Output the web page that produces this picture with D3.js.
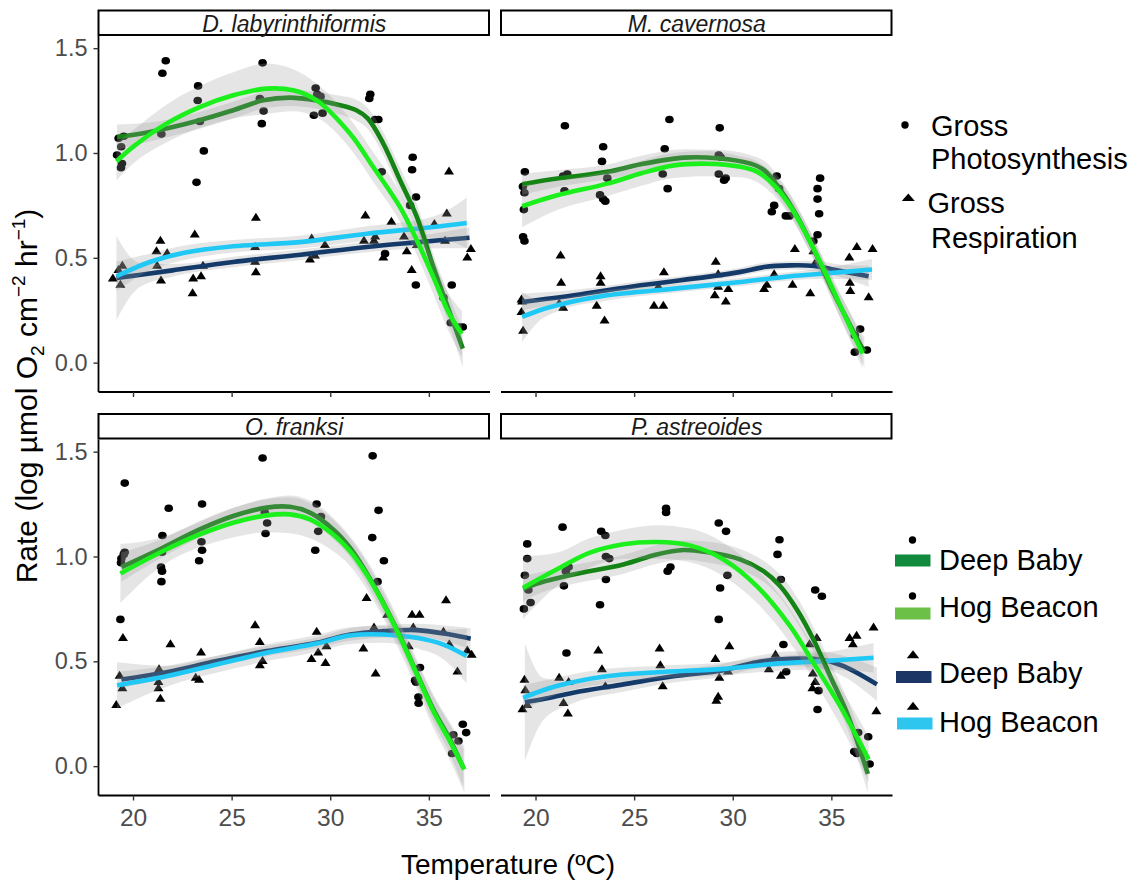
<!DOCTYPE html>
<html>
<head>
<meta charset="utf-8">
<script src="https://cdn.jsdelivr.net/npm/d3@7"></script>
<style>
  body { margin: 0; background: #fff; }
  svg { display: block; }
  text { font-family: "Liberation Sans", Arial, Helvetica, sans-serif; }
</style>
</head>
<body>
<svg id="chart" width="1139" height="886"></svg>
<script>
// ---- facet names and axis ticks ----
const species = ["D. labyrinthiformis", "M. cavernosa", "O. franksi", "P. astreoides"];
const xTicks = [20, 25, 30, 35];
const yTicks = [0, 0.5, 1.0, 1.5];
const yTickLabels = ["0.0", "0.5", "1.0", "1.5"];
const sites = ["Deep Baby", "Hog Beacon"];

// ---- measurements: [temperature (ºC), log rate] ----
const dlabPhoto = [[19.19,0.99],[19.27,1.07],[19.40,1.03],[19.44,0.95],[19.39,0.93],[19.53,1.08],
  [21.49,1.38],[21.66,1.44],[21.44,1.09],
  [23.30,1.32],[23.28,1.25],[23.39,1.15],[23.22,0.86],[23.59,1.01],
  [26.57,1.43],[26.43,1.26],[26.62,1.20],[26.53,1.14],
  [29.26,1.31],[29.34,1.28],[29.51,1.27],[29.17,1.18],[29.61,1.19],
  [32.03,1.28],[31.98,1.26],[32.44,1.16],[32.27,1.16],[32.61,0.91],[32.78,0.52],
  [34.18,0.98],[34.15,0.92],[34.35,0.79],[34.05,0.75],[34.34,0.37],
  [36.16,0.37],[35.74,0.31],[36.11,0.19],[36.72,0.17],[36.55,0.17]];
const dlabResp = [[18.98,0.40],[19.26,0.44],[19.46,0.46],[19.36,0.37],
  [21.39,0.58],[21.19,0.53],[21.22,0.46],[21.73,0.52],[21.42,0.39],
  [23.13,0.61],[23.05,0.40],[23.02,0.33],[23.45,0.41],[23.55,0.46],
  [26.23,0.69],[26.19,0.55],[26.23,0.43],[26.19,0.48],
  [29.06,0.59],[28.97,0.49],[29.22,0.51],[29.73,0.56],
  [31.78,0.70],[31.71,0.58],[32.28,0.60],[32.22,0.58],[33.10,0.67],[32.69,0.50],
  [33.74,0.60],[33.88,0.53],[34.13,0.44],[34.39,0.56],
  [35.28,0.66],[35.91,0.71],[35.82,0.58],[36.02,0.91],[37.13,0.54],[36.95,0.50]];

const mcavPhoto = [[19.46,0.91],[19.36,0.84],[19.44,0.81],[19.41,0.73],[19.37,0.60],[19.44,0.58],
  [21.49,1.13],[21.40,0.89],[21.61,0.90],[21.47,0.82],
  [23.43,1.03],[23.37,0.96],[23.64,0.88],[23.27,0.80],[23.43,0.78],[23.54,0.77],
  [26.79,1.16],[26.55,1.02],[26.45,0.90],[26.70,0.83],
  [29.34,1.12],[29.29,0.99],[29.39,0.98],[29.29,0.90],[29.56,0.87],[29.64,0.88],
  [32.23,0.89],[32.35,0.83],[32.10,0.75],[31.98,0.72],[32.69,0.70],[32.88,0.70],
  [34.43,0.88],[34.30,0.83],[34.30,0.78],[34.38,0.71],[34.30,0.61],[34.09,0.58],
  [36.46,0.16],[36.19,0.13],[36.19,0.05],[36.80,0.06]];
const mcavResp = [[19.37,0.15],[19.29,0.24],[19.29,0.30],[19.32,0.29],
  [21.27,0.51],[21.30,0.38],[21.20,0.28],[21.40,0.26],
  [23.30,0.41],[23.30,0.38],[23.10,0.27],[23.50,0.20],
  [26.51,0.43],[26.23,0.36],[26.01,0.27],[26.48,0.27],
  [29.14,0.48],[29.26,0.42],[29.26,0.36],[29.09,0.32],[29.78,0.35],[29.65,0.29],
  [32.10,0.42],[31.73,0.37],[31.59,0.35],[33.03,0.37],[33.15,0.54],
  [33.93,0.33],[34.09,0.53],[34.16,0.47],
  [35.91,0.50],[36.29,0.55],[37.09,0.54],[35.94,0.38],[35.96,0.34],[36.89,0.31]];

const ofraPhoto = [[19.58,1.35],[19.36,0.70],[19.41,0.99],[19.53,1.01],[19.39,0.97],[19.58,1.02],
  [21.81,1.23],[21.49,1.10],[21.47,1.02],[21.42,0.95],[21.47,0.93],[21.44,0.88],
  [23.50,1.25],[23.47,1.07],[23.50,1.03],[23.35,0.98],
  [26.57,1.47],[26.68,1.21],[26.80,1.16],[26.72,1.11],
  [29.31,1.25],[29.53,1.19],[29.39,1.12],[29.24,1.03],
  [32.15,1.48],[32.45,1.22],[32.13,1.09],[32.72,0.98],[32.40,0.88],
  [34.30,0.41],[34.35,0.40],[34.47,0.33],[34.48,0.30],[34.55,0.47],
  [36.72,0.20],[36.89,0.16],[36.50,0.12],[36.24,0.15],[36.18,0.06]];
const ofraResp = [[19.15,0.29],[19.49,0.61],[19.32,0.43],[19.46,0.37],
  [21.90,0.58],[21.32,0.46],[21.29,0.40],[21.29,0.37],[21.39,0.32],
  [23.45,0.54],[23.18,0.42],[23.35,0.41],
  [26.19,0.67],[26.43,0.59],[26.57,0.50],[26.43,0.48],
  [29.31,0.64],[29.39,0.54],[29.05,0.51],[29.81,0.57],[29.76,0.49],
  [31.84,0.80],[32.22,0.66],[31.68,0.56],[32.30,0.44],[32.89,0.72],
  [34.15,0.72],[34.53,0.72],[34.21,0.66],[33.98,0.57],
  [35.87,0.79],[35.74,0.64],[36.04,0.58],[36.45,0.45],[36.95,0.55],[37.17,0.53]];

const pastPhoto = [[19.58,1.06],[19.58,0.99],[19.46,0.91],[19.64,0.84],[19.75,0.78],[19.41,0.75],
  [21.37,1.14],[21.68,0.95],[21.54,0.93],[21.44,0.86],[21.57,0.54],
  [23.33,1.12],[23.54,1.10],[23.57,1.00],[23.74,0.99],[23.57,0.89],[23.27,0.77],
  [26.62,1.23],[26.62,1.21],[26.84,0.95],[26.70,0.93],
  [29.29,1.16],[29.66,1.12],[29.73,0.91],[29.36,0.85],[29.29,0.70],
  [32.37,1.08],[32.27,1.01],[32.44,0.89],[32.57,0.58],[32.71,0.45],
  [34.18,0.84],[34.52,0.81],[34.35,0.36],[34.30,0.27],
  [36.36,0.16],[36.87,0.14],[36.16,0.07],[36.29,0.06],[36.94,0.01]];
const pastResp = [[19.44,0.41],[19.48,0.36],[19.58,0.29],[19.34,0.27],
  [21.20,0.42],[21.68,0.40],[21.42,0.30],[21.64,0.25],
  [23.18,0.55],[23.37,0.46],[23.54,0.38],
  [26.29,0.56],[26.33,0.48],[26.45,0.38],
  [29.12,0.51],[29.83,0.57],[29.32,0.42],[29.76,0.45],[29.26,0.33],[29.17,0.31],
  [32.17,0.53],[31.83,0.46],[32.44,0.43],
  [33.89,0.58],[34.26,0.61],[34.06,0.44],[34.18,0.40],[34.04,0.37],
  [35.92,0.61],[36.28,0.62],[36.09,0.58],[37.14,0.66],[37.28,0.26]];

// ---- loess smooths: [temperature, fitted value, half-width of confidence band] ----
const dlabDeepPhotoFit = [[19.19,1.076,0.06],[20.85,1.100,0.045],[23.38,1.156,0.04],[25.08,1.204,0.04],[26.6,1.251,0.04],[27.95,1.264,0.04],[29.31,1.251,0.04],[30.5,1.228,0.045],[31.3,1.205,0.05],[31.9,1.165,0.05],[32.69,1.045,0.055],[33.54,0.870,0.06],[34.39,0.695,0.06],[35.23,0.456,0.06],[36.08,0.234,0.07],[36.72,0.067,0.09]];
const dlabHogPhotoFit = [[19.16,0.960,0.09],[20.0,1.029,0.08],[21.69,1.140,0.09],[23.38,1.219,0.10],[25.08,1.275,0.11],[26.77,1.307,0.12],[28.12,1.299,0.10],[29.31,1.251,0.08],[31.0,1.093,0.07],[32.18,0.933,0.07],[33.54,0.742,0.07],[34.39,0.584,0.07],[35.23,0.408,0.08],[36.0,0.24,0.09],[36.67,0.138,0.11]];
const dlabDeepRespFit = [[19.16,0.404,0.2],[20.3,0.418,0.06],[22.0,0.44,0.03],[25.08,0.480,0.025],[28.5,0.515,0.025],[31.85,0.552,0.025],[34.5,0.575,0.03],[37.06,0.596,0.05]];
const dlabHogRespFit = [[19.16,0.412,0.07],[20.85,0.480,0.04],[22.54,0.523,0.035],[25.08,0.555,0.03],[28.46,0.575,0.03],[31.85,0.615,0.035],[35.23,0.647,0.05],[36.92,0.666,0.12]];

const mcavDeepPhotoFit = [[19.32,0.851,0.05],[21.1,0.878,0.04],[23.64,0.910,0.035],[25.33,0.946,0.04],[27.53,0.978,0.04],[29.22,0.975,0.04],[30.91,0.949,0.04],[31.59,0.918,0.045],[32.44,0.822,0.05],[33.28,0.695,0.05],[34.13,0.536,0.05],[34.97,0.361,0.05],[35.82,0.202,0.06],[36.67,0.051,0.07]];
const mcavHogPhotoFit = [[19.32,0.746,0.1],[21.1,0.798,0.07],[23.64,0.854,0.06],[25.33,0.902,0.06],[27.02,0.941,0.06],[28.71,0.949,0.06],[30.4,0.934,0.05],[31.25,0.910,0.05],[32.10,0.846,0.05],[32.94,0.743,0.05],[33.79,0.600,0.05],[34.64,0.440,0.05],[35.48,0.266,0.06],[36.58,0.043,0.07]];
const mcavDeepRespFit = [[19.32,0.289,0.04],[21.95,0.321,0.025],[25.33,0.369,0.02],[28.71,0.409,0.02],[30.4,0.433,0.02],[31.59,0.456,0.02],[32.94,0.464,0.02],[34.13,0.461,0.025],[35.48,0.437,0.03],[36.89,0.412,0.05]];
const mcavHogRespFit = [[19.32,0.218,0.12],[20.2,0.25,0.05],[21.1,0.274,0.03],[23.64,0.321,0.025],[27.02,0.353,0.02],[30.4,0.385,0.02],[32.94,0.412,0.02],[34.64,0.425,0.025],[37.06,0.444,0.05]];

const ofraDeepPhotoFit = [[19.41,0.949,0.07],[21.35,1.034,0.045],[23.38,1.129,0.04],[25.08,1.193,0.04],[26.77,1.233,0.04],[27.95,1.237,0.045],[28.97,1.209,0.045],[30.15,1.129,0.045],[31.0,1.042,0.045],[31.84,0.922,0.05],[32.69,0.779,0.05],[33.54,0.620,0.05],[34.38,0.445,0.05],[35.23,0.270,0.06],[36.07,0.127,0.07],[36.75,-0.008,0.09]];
const ofraHogPhotoFit = [[19.36,0.919,0.14],[21.35,1.018,0.07],[23.38,1.105,0.06],[25.08,1.161,0.07],[26.77,1.196,0.08],[27.95,1.201,0.09],[28.97,1.177,0.09],[30.15,1.105,0.08],[31.0,1.026,0.07],[31.84,0.915,0.07],[32.69,0.775,0.07],[33.54,0.615,0.07],[34.38,0.440,0.07],[35.23,0.262,0.08],[36.07,0.118,0.09],[36.8,-0.016,0.11]];
const ofraDeepRespFit = [[19.41,0.413,0.04],[21.69,0.448,0.03],[24.23,0.501,0.025],[26.77,0.549,0.025],[29.31,0.588,0.025],[31.0,0.628,0.03],[32.69,0.644,0.03],[34.38,0.649,0.03],[36.07,0.628,0.04],[37.12,0.608,0.05]];
const ofraHogRespFit = [[19.19,0.386,0.11],[21.69,0.429,0.05],[24.23,0.485,0.04],[26.77,0.541,0.04],[29.31,0.585,0.04],[31.0,0.623,0.04],[32.69,0.628,0.04],[34.38,0.612,0.05],[35.74,0.580,0.07],[36.92,0.525,0.13]];

const pastDeepPhotoFit = [[19.37,0.846,0.06],[20.22,0.875,0.05],[21.91,0.914,0.045],[24.45,0.962,0.045],[26.14,1.010,0.045],[27.50,1.031,0.045],[28.68,1.021,0.05],[30.37,0.986,0.05],[31.56,0.930,0.05],[32.40,0.859,0.055],[33.25,0.747,0.06],[34.09,0.604,0.06],[34.94,0.429,0.065],[35.79,0.254,0.07],[36.85,-0.037,0.09]];
const pastHogPhotoFit = [[19.37,0.851,0.15],[21.07,0.938,0.08],[22.76,1.018,0.07],[24.45,1.058,0.07],[26.14,1.069,0.08],[27.83,1.053,0.08],[29.53,0.986,0.08],[31.22,0.859,0.08],[32.91,0.668,0.08],[34.09,0.493,0.08],[35.45,0.286,0.09],[36.89,0.032,0.11]];
const pastDeepRespFit = [[19.46,0.305,0.28],[20.4,0.32,0.1],[21.91,0.350,0.05],[24.45,0.390,0.035],[26.99,0.429,0.03],[29.53,0.458,0.03],[31.22,0.496,0.03],[32.91,0.512,0.035],[34.60,0.506,0.04],[35.62,0.477,0.05],[37.31,0.390,0.08]];
const pastHogRespFit = [[19.37,0.326,0.06],[21.07,0.382,0.04],[23.60,0.429,0.035],[26.14,0.448,0.03],[29.53,0.464,0.03],[32.06,0.488,0.035],[34.60,0.501,0.04],[37.14,0.517,0.07]];

// ---- facet table built from the arrays above ----
const panels = [
  { name: species[0], photo: dlabPhoto, resp: dlabResp,
    fits: { deepResp: dlabDeepRespFit, hogResp: dlabHogRespFit, deepPhoto: dlabDeepPhotoFit, hogPhoto: dlabHogPhotoFit } },
  { name: species[1], photo: mcavPhoto, resp: mcavResp,
    fits: { deepResp: mcavDeepRespFit, hogResp: mcavHogRespFit, deepPhoto: mcavDeepPhotoFit, hogPhoto: mcavHogPhotoFit } },
  { name: species[2], photo: ofraPhoto, resp: ofraResp,
    fits: { deepResp: ofraDeepRespFit, hogResp: ofraHogRespFit, deepPhoto: ofraDeepPhotoFit, hogPhoto: ofraHogPhotoFit } },
  { name: species[3], photo: pastPhoto, resp: pastResp,
    fits: { deepResp: pastDeepRespFit, hogResp: pastHogRespFit, deepPhoto: pastDeepPhotoFit, hogPhoto: pastHogPhotoFit } }
];

// smooth drawing order and colours
const smoothOrder = ["deepResp", "hogResp", "deepPhoto", "hogPhoto"];
const lineColor = { deepResp: "#143a6a", hogResp: "#1fc8f5", deepPhoto: "#148414", hogPhoto: "#1cf01c" };

// ---- layout ----
const panelW = 391.5, panelH = 356, stripH = 25.5;
const colX = [98.5, 501];
const rowY = [36, 439.5];

const svg = d3.select("#chart");
const x = d3.scaleLinear().domain([18.25, 38.1]).range([0, panelW]);
const y = d3.scaleLinear().domain([-0.14, 1.558]).range([panelH, 0]);

const curve = d3.curveCatmullRom.alpha(0.5);
const line = d3.line().x(d => x(d[0])).y(d => y(d[1])).curve(curve);
const band = d3.area().x(d => x(d[0])).y0(d => y(d[1] - d[2])).y1(d => y(d[1] + d[2])).curve(d3.curveMonotoneX);

// triangle path of given width/height centred on its centroid
function tri(w, h) {
  return `M0,${-2 * h / 3}L${w / 2},${h / 3}L${-w / 2},${h / 3}Z`;
}

const defs = svg.append("defs");

panels.forEach((p, i) => {
  const col = i % 2, row = Math.floor(i / 2);
  const g = svg.append("g").attr("transform", `translate(${colX[col]},${rowY[row]})`);

  defs.append("clipPath").attr("id", "clip" + i)
    .append("rect").attr("width", panelW).attr("height", panelH);

  const plot = g.append("g").attr("clip-path", `url(#clip${i})`);

  // observations
  plot.selectAll("ellipse.photo").data(p.photo).join("ellipse")
    .attr("class", "photo")
    .attr("cx", d => x(d[0])).attr("cy", d => y(d[1]))
    .attr("rx", 4.3).attr("ry", 3.8).attr("fill", "#000");
  plot.selectAll("path.resp").data(p.resp).join("path")
    .attr("class", "resp")
    .attr("transform", d => `translate(${x(d[0])},${y(d[1])})`)
    .attr("d", tri(10, 8)).attr("fill", "#000");

  // smooths with confidence bands
  smoothOrder.forEach(k => {
    const f = p.fits[k];
    plot.append("path").attr("d", band(f)).attr("fill", "#999").attr("fill-opacity", 0.26);
    plot.append("path").attr("d", line(f)).attr("fill", "none")
      .attr("stroke", lineColor[k]).attr("stroke-width", 4.6).attr("stroke-linecap", "butt");
  });

  // x axis
  const xa = g.append("g").attr("transform", `translate(0,${panelH})`)
    .call(d3.axisBottom(x).tickValues(xTicks).tickSize(5).tickPadding(8)
      .tickFormat(row === 1 ? d3.format("d") : () => ""));
  xa.select(".domain").attr("stroke", "#000").attr("stroke-width", 1.8).attr("d", `M0,0H${panelW}`);
  xa.selectAll(".tick line").attr("stroke", "#333").attr("stroke-width", 1.4);
  xa.selectAll(".tick text").attr("fill", "#4d4d4d").attr("font-size", 24.5)
    .attr("font-family", '"Liberation Sans", Arial, sans-serif');

  // y axis on the left column only
  if (col === 0) {
    const ya = g.append("g")
      .call(d3.axisLeft(y).tickValues(yTicks).tickSize(5).tickPadding(6)
        .tickFormat((d, j) => yTickLabels[j]));
    ya.select(".domain").attr("stroke", "#000").attr("stroke-width", 1.8).attr("d", `M0,0V${panelH}`);
    ya.selectAll(".tick line").attr("stroke", "#333").attr("stroke-width", 1.4);
    ya.selectAll(".tick text").attr("fill", "#4d4d4d").attr("font-size", 23.5)
      .attr("font-family", '"Liberation Sans", Arial, sans-serif');
  }

  // facet strip
  g.append("rect").attr("x", 0).attr("y", -stripH).attr("width", panelW - 1).attr("height", stripH - 1)
    .attr("fill", "#fff").attr("stroke", "#000").attr("stroke-width", 2);
  g.append("text").attr("x", panelW / 2).attr("y", -4.5).attr("text-anchor", "middle")
    .attr("font-size", 23).attr("font-style", "italic").attr("fill", "#1a1a1a").text(p.name);
});

// ---- axis titles ----
svg.append("text").attr("x", 508).attr("y", 874).attr("text-anchor", "middle")
  .attr("font-size", 28).attr("fill", "#000").text("Temperature (ºC)");

const yt = svg.append("text").attr("transform", "translate(36.5,396) rotate(-90)")
  .attr("text-anchor", "middle").attr("font-size", 30).attr("fill", "#000");
yt.append("tspan").text("Rate (log µmol O");
yt.append("tspan").attr("font-size", 19).attr("dy", 7).text("2");
yt.append("tspan").attr("dy", -7).text(" cm");
yt.append("tspan").attr("font-size", 19).attr("dy", -12).text("−2");
yt.append("tspan").attr("dy", 12).text(" hr");
yt.append("tspan").attr("font-size", 19).attr("dy", -12).text("−1");
yt.append("tspan").attr("dy", 12).text(")");

// ---- legend: measurement type ----
const lg1 = svg.append("g");
lg1.append("circle").attr("cx", 905).attr("cy", 125).attr("r", 3.7).attr("fill", "#000");
lg1.append("text").attr("x", 931).attr("y", 135.5).attr("font-size", 29).text("Gross");
lg1.append("text").attr("x", 931).attr("y", 168.5).attr("font-size", 29).text("Photosynthesis");
lg1.append("path").attr("transform", "translate(908.3,198.5)").attr("d", tri(13, 7.5)).attr("fill", "#000");
lg1.append("text").attr("x", 927.5).attr("y", 212.5).attr("font-size", 29).text("Gross");
lg1.append("text").attr("x", 931).attr("y", 247.5).attr("font-size", 29).text("Respiration");

// ---- legend: site ----
const siteLegend = [
  { label: sites[0], mark: "dot", color: "#128a3e", my: 540, ry: 554.5, ty: 569.5, x0: 895 },
  { label: sites[1], mark: "dot", color: "#6cbf47", my: 596, ry: 607.5, ty: 617, x0: 895 },
  { label: sites[0], mark: "tri", color: "#1b3564", my: 655.5, ry: 671, ty: 683, x0: 896 },
  { label: sites[1], mark: "tri", color: "#2ec5ef", my: 707, ry: 717.5, ty: 732, x0: 897 }
];
const lg2 = svg.append("g");
siteLegend.forEach(e => {
  if (e.mark === "dot") {
    lg2.append("circle").attr("cx", 912.5).attr("cy", e.my).attr("r", 3.7).attr("fill", "#000");
  } else {
    lg2.append("path").attr("transform", `translate(913,${e.my})`).attr("d", tri(12.5, 8)).attr("fill", "#000");
  }
  lg2.append("rect").attr("x", e.x0).attr("y", e.ry).attr("width", 35.5).attr("height", 12).attr("fill", e.color);
  lg2.append("text").attr("x", 939).attr("y", e.ty).attr("font-size", 29).text(e.label);
});
</script>
</body>
</html>
